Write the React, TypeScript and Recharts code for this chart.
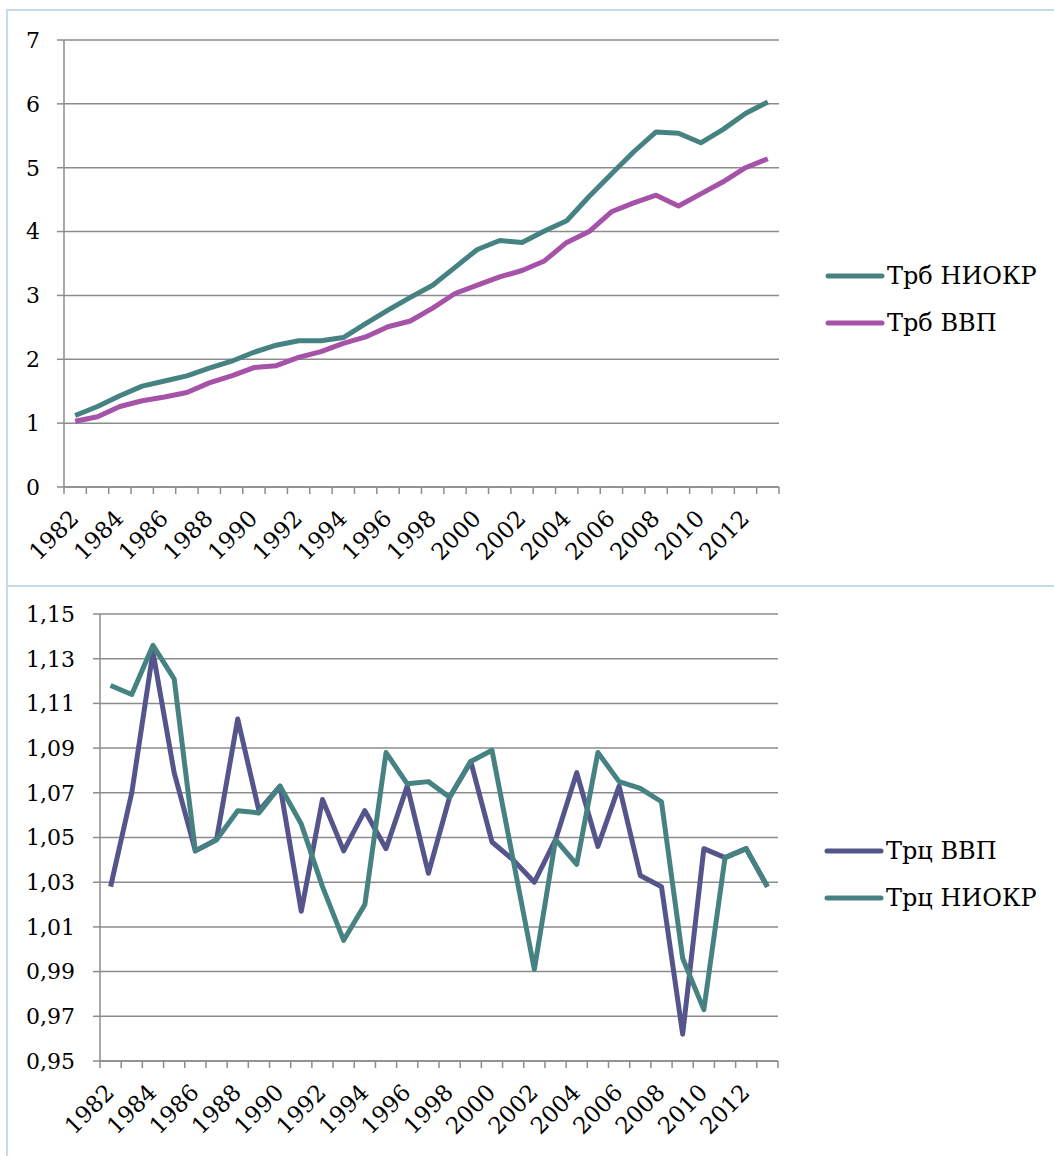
import React from 'react';
import { LineChart, Line, XAxis, YAxis, CartesianGrid, Legend } from 'recharts';

const years = [
  '1982','1983','1984','1985','1986','1987','1988','1989','1990','1991','1992','1993','1994','1995','1996','1997',
  '1998','1999','2000','2001','2002','2003','2004','2005','2006','2007','2008','2009','2010','2011','2012','2013',
];

const trbNiokr = [
  1.12, 1.26, 1.43, 1.58, 1.66, 1.74, 1.86, 1.97, 2.11, 2.22, 2.29, 2.29, 2.34, 2.56, 2.77, 2.97,
  3.16, 3.44, 3.72, 3.86, 3.83, 4.01, 4.17, 4.55, 4.90, 5.25, 5.56, 5.54, 5.39, 5.60, 5.85, 6.03,
];
const trbVvp = [
  1.03, 1.10, 1.26, 1.35, 1.41, 1.48, 1.63, 1.74, 1.87, 1.90, 2.03, 2.12, 2.25, 2.35, 2.51, 2.60,
  2.80, 3.03, 3.16, 3.29, 3.39, 3.54, 3.83, 4.00, 4.31, 4.45, 4.57, 4.40, 4.59, 4.78, 5.00, 5.14,
];

const trcVvp = [
  1.028, 1.070, 1.133, 1.079, 1.044, 1.049, 1.103, 1.062, 1.073, 1.017, 1.067, 1.044, 1.062, 1.045, 1.073, 1.034,
  1.068, 1.084, 1.048, 1.040, 1.030, 1.049, 1.079, 1.046, 1.073, 1.033, 1.028, 0.962, 1.045, 1.041, 1.045, 1.028,
];
const trcNiokr = [
  1.118, 1.114, 1.136, 1.121, 1.044, 1.049, 1.062, 1.061, 1.073, 1.056, 1.028, 1.004, 1.020, 1.088, 1.074, 1.075,
  1.068, 1.084, 1.089, 1.040, 0.991, 1.049, 1.038, 1.088, 1.075, 1.072, 1.066, 0.996, 0.973, 1.041, 1.045, 1.028,
];

const ticksTop = [0, 1, 2, 3, 4, 5, 6, 7];
const ticksBottom = [0.95, 0.97, 0.99, 1.01, 1.03, 1.05, 1.07, 1.09, 1.11, 1.13, 1.15];

const topData = years.map((y, i) => ({ year: y, niokr: trbNiokr[i], vvp: trbVvp[i] }));
const bottomData = years.map((y, i) => ({ year: y, vvp: trcVvp[i], niokr: trcNiokr[i] }));

const FONT = "'DejaVu Serif', 'Liberation Serif', serif";
const GRID = '#8c8c8c';
const TEAL = '#468282';
const MAGENTA = '#a552a8';
const NAVY = '#55558c';
const FRAME = '#c6dbea';

const makeXTick = (band: number, count: number) => (props: any) => {
  const { x, y, payload } = props;
  const idx = payload.index;
  const left = x - band / 2;
  const ax = x + 5;
  const ay = y + 33;
  return (
    <g>
      <line x1={left} y1={y} x2={left} y2={y + 7} stroke={GRID} strokeWidth={1.5} />
      {idx === count - 1 && (
        <line x1={x + band / 2} y1={y} x2={x + band / 2} y2={y + 7} stroke={GRID} strokeWidth={1.5} />
      )}
      {idx % 2 === 0 && (
        <text
          x={ax}
          y={ay}
          textAnchor="end"
          transform={`rotate(-45 ${ax} ${ay})`}
          style={{ fontFamily: FONT, fontSize: 23 }}
          fill="#000"
        >
          {payload.value}
        </text>
      )}
    </g>
  );
};

const makeLegend = (order: string[]) => (props: any) => {
  const payload = [...(props.payload || [])].sort(
    (a: any, b: any) => order.indexOf(a.value) - order.indexOf(b.value)
  );
  return (
    <div>
      {payload.map((p: any) => (
        <div key={p.value} style={{ display: 'flex', alignItems: 'center', height: 47 }}>
          <svg width={60} height={10} style={{ display: 'block' }}>
            <line x1={3} y1={5} x2={57} y2={5} stroke={p.color} strokeWidth={5} strokeLinecap="round" />
          </svg>
          <span style={{ fontFamily: FONT, fontSize: 24, color: '#000', marginLeft: 2, lineHeight: '28px' }}>
            {p.value}
          </span>
        </div>
      ))}
    </div>
  );
};

const topOrder = ['Трб НИОКР', 'Трб ВВП'];
const bottomOrder = ['Трц ВВП', 'Трц НИОКР'];

const yTickStyle = { fontFamily: FONT, fontSize: 22, fill: '#000' };

export default function App() {
  return (
    <div
      style={{
        position: 'absolute',
        left: 0,
        top: 0,
        width: 1054,
        height: 1156,
        overflow: 'hidden',
        background: '#fff',
        fontFamily: FONT,
      }}
    >
      <div
        style={{
          position: 'absolute',
          left: 6,
          top: 9,
          width: 1100,
          height: 574,
          border: `2px solid ${FRAME}`,
        }}
      />
      <div
        style={{
          position: 'absolute',
          left: 6,
          top: 585,
          width: 1100,
          height: 700,
          border: `2px solid ${FRAME}`,
        }}
      />
      <div style={{ position: 'absolute', left: 0, top: 0 }}>
        <LineChart
          width={1054}
          height={585}
          data={topData}
          margin={{ top: 40, right: 275, bottom: 18, left: 8 }}
        >
          <CartesianGrid horizontal vertical={false} stroke={GRID} strokeWidth={1.5} />
          <XAxis
            dataKey="year"
            scale="band"
            interval={0}
            height={80}
            tickSize={0}
            tickMargin={0}
            tickLine={false}
            axisLine={{ stroke: GRID, strokeWidth: 1.5 }}
            tick={makeXTick(715 / 32, 32)}
          />
          <YAxis
            domain={[0, 7]}
            ticks={ticksTop}
            interval={0}
            width={56}
            tickSize={7}
            tickMargin={17}
            tickLine={{ stroke: GRID, strokeWidth: 1.5 }}
            axisLine={{ stroke: GRID, strokeWidth: 1.5 }}
            tick={yTickStyle}
          />
          <Line
            type="linear"
            dataKey="niokr"
            name="Трб НИОКР"
            stroke={TEAL}
            strokeWidth={5}
            strokeLinejoin="round"
            dot={false}
            isAnimationActive={false}
          />
          <Line
            type="linear"
            dataKey="vvp"
            name="Трб ВВП"
            stroke={MAGENTA}
            strokeWidth={5}
            strokeLinejoin="round"
            dot={false}
            isAnimationActive={false}
          />
          <Legend
            layout="vertical"
            align="center"
            verticalAlign="middle"
            wrapperStyle={{ left: 825, top: 252, width: 230 }}
            content={makeLegend(topOrder)}
          />
        </LineChart>
      </div>
      <div style={{ position: 'absolute', left: 0, top: 585 }}>
        <LineChart
          width={1054}
          height={571}
          data={bottomData}
          margin={{ top: 29, right: 276, bottom: 15, left: 8 }}
        >
          <CartesianGrid horizontal vertical={false} stroke={GRID} strokeWidth={1.5} />
          <XAxis
            dataKey="year"
            scale="band"
            interval={0}
            height={80}
            tickSize={0}
            tickMargin={0}
            tickLine={false}
            axisLine={{ stroke: GRID, strokeWidth: 1.5 }}
            tick={makeXTick(678 / 32, 32)}
          />
          <YAxis
            domain={[0.95, 1.15]}
            ticks={ticksBottom}
            interval={0}
            width={92}
            tickSize={7}
            tickMargin={18}
            tickLine={{ stroke: GRID, strokeWidth: 1.5 }}
            axisLine={{ stroke: GRID, strokeWidth: 1.5 }}
            tickFormatter={(v: number) => v.toFixed(2).replace('.', ',')}
            tick={yTickStyle}
          />
          <Line
            type="linear"
            dataKey="vvp"
            name="Трц ВВП"
            stroke={NAVY}
            strokeWidth={5}
            strokeLinejoin="round"
            dot={false}
            isAnimationActive={false}
          />
          <Line
            type="linear"
            dataKey="niokr"
            name="Трц НИОКР"
            stroke={TEAL}
            strokeWidth={5}
            strokeLinejoin="round"
            dot={false}
            isAnimationActive={false}
          />
          <Legend
            layout="vertical"
            align="center"
            verticalAlign="middle"
            wrapperStyle={{ left: 824, top: 242, width: 230 }}
            content={makeLegend(bottomOrder)}
          />
        </LineChart>
      </div>
    </div>
  );
}
